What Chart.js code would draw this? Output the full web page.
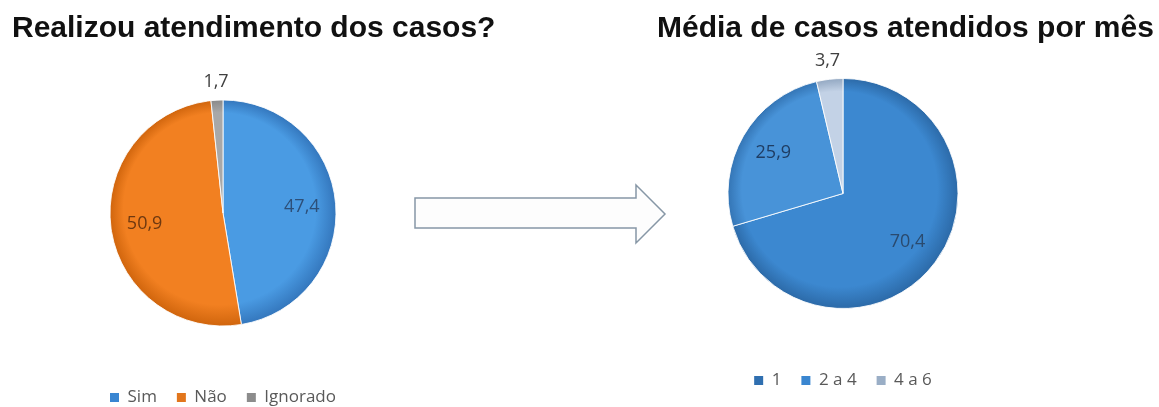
<!DOCTYPE html>
<html>
<head>
<meta charset="utf-8">
<script src="https://cdn.jsdelivr.net/npm/chart.js@4"></script>
<style>
  html, body { margin:0; padding:0; background:#fff; overflow:hidden; }
  body { width:1159px; height:407px; position:relative; }
  #leftBox { position:absolute; left:0; top:0; width:520px; height:416px; }
  #rightBox { position:absolute; left:527px; top:0; width:632px; height:407px; }
  #arrow { position:absolute; left:0; top:0; }
</style>
</head>
<body>

<div id="leftBox"><canvas id="leftChart"></canvas></div>
<div id="rightBox"><canvas id="rightChart"></canvas></div>

<svg id="arrow" width="1159" height="407">
  <polygon points="415,198 636,198 636,185 665,214 636,243 636,228 415,228"
    fill="#fdfdfd" stroke="#8797a6" stroke-width="1.5"/>
</svg>

<script>

// DATA
const leftTitle = 'Realizou atendimento dos casos?';
const leftLabels = ['Sim', 'Não', 'Ignorado'];
const leftValues = [47.4, 50.9, 1.7];

const rightTitle = 'Média de casos atendidos por mês';
const rightLabels = ['1', '2 a 4', '4 a 6'];
const rightValues = [70.4, 25.9, 3.7];


// COLORS
const leftColors = ['#4a9be3', '#f28021', '#a8a8a8'];
const leftEdges = ['#3477bd', '#d0650d', '#8a8a8a'];
const leftLegend = ['#3a86d2', '#e2761c', '#8c8c8c'];
const leftText = ['#2d4f78', '#6e3810', '#404040'];

const rightColors = ['#3c88d0', '#4893d8', '#c3d2e6'];
const rightEdges = ['#2c6aa8', '#3475b5', '#93a8c2'];
const rightLegend = ['#2f6fb0', '#3a86d0', '#9aaec6'];
const rightText = ['#2a4a6e', '#1f3d63', '#404040'];


// shaded slice fill
function shade(colors, edges, radius){

    return function(ctx){

        const chart = ctx.chart;
        const area = chart.chartArea;

        if(!area || !isFinite(area.left)) return colors[ctx.dataIndex];

        const cx = (area.left + area.right) / 2;
        const cy = (area.top + area.bottom) / 2;

        const g = chart.ctx.createRadialGradient(
            cx - radius * 0.2, cy - radius * 0.25, 0,
            cx, cy, radius
        );

        g.addColorStop(0, colors[ctx.dataIndex]);
        g.addColorStop(0.85, colors[ctx.dataIndex]);
        g.addColorStop(1, edges[ctx.dataIndex]);

        return g;

    };

}


// title drawn at a fixed left position
const sideTitle = {

    id:'sideTitle',

    afterDraw(chart, args, opts){

        const ctx = chart.ctx;

        ctx.save();
        ctx.font = 'bold 30px "Liberation Sans", Arial, sans-serif';
        ctx.fillStyle = '#111';
        ctx.textAlign = 'left';
        ctx.textBaseline = 'alphabetic';
        ctx.fillText(opts.text, opts.x, opts.y);
        ctx.restore();

    }

};


// value labels on slices
const sliceLabels = {

    id:'sliceLabels',

    afterDatasetsDraw(chart, args, opts){

        const ctx = chart.ctx;
        const meta = chart.getDatasetMeta(0);
        const values = chart.data.datasets[0].data;

        ctx.save();
        ctx.font = '18px "Open Sans", sans-serif';
        ctx.textAlign = 'center';
        ctx.textBaseline = 'middle';

        meta.data.forEach((arc, i) => {

            const mid = (arc.startAngle + arc.endAngle) / 2;
            const k = values[i] < 5 ? 1.16 : 0.7;

            const x = arc.x + Math.cos(mid) * arc.outerRadius * k;
            const y = arc.y + Math.sin(mid) * arc.outerRadius * k;

            ctx.fillStyle = opts.colors[i];
            ctx.fillText(String(values[i]).replace('.', ','), x, y);

        });

        ctx.restore();

    }

};


function makePie(canvasId, title, titleX, labels, values, colors, edges,
                 legendColors, textColors, radius, padTop, padBottom, padRight){

    new Chart(

    document.getElementById(canvasId),

    {

        type:'pie',

        data:{

            labels:labels,

            datasets:[{

                data:values,

                backgroundColor:shade(colors, edges, radius),

                borderColor:'rgba(255,255,255,0.85)',

                borderWidth:1

            }]

        },

        options:{

            responsive:true,
            maintainAspectRatio:false,
            animation:false,

            radius:radius,

            layout:{
                padding:{ top:padTop, bottom:padBottom, left:0, right:padRight }
            },

            plugins:{

                legend:{

                    position:'bottom',

                    labels:{

                        boxWidth:9,
                        boxHeight:9,
                        padding:20,
                        color:'#595959',
                        font:{ family:'"Open Sans", sans-serif', size:17 },

                        generateLabels(chart){

                            return labels.map((text, i) => ({
                                text:text,
                                fillStyle:legendColors[i],
                                strokeStyle:legendColors[i],
                                lineWidth:0,
                                fontColor:'#595959',
                                hidden:false,
                                index:i
                            }));

                        }

                    }

                },

                tooltip:{ enabled:false },

                sideTitle:{ text:title, x:titleX, y:37 },

                sliceLabels:{ colors:textColors }

            }

        },

        plugins:[sideTitle, sliceLabels]

    });

}


makePie('leftChart', leftTitle, 12, leftLabels, leftValues,
        leftColors, leftEdges, leftLegend, leftText, 113, 57, 0, 74);

makePie('rightChart', rightTitle, 130, rightLabels, rightValues,
        rightColors, rightEdges, rightLegend, rightText, 115, 35, 8, 0);

</script>
</body>
</html>
